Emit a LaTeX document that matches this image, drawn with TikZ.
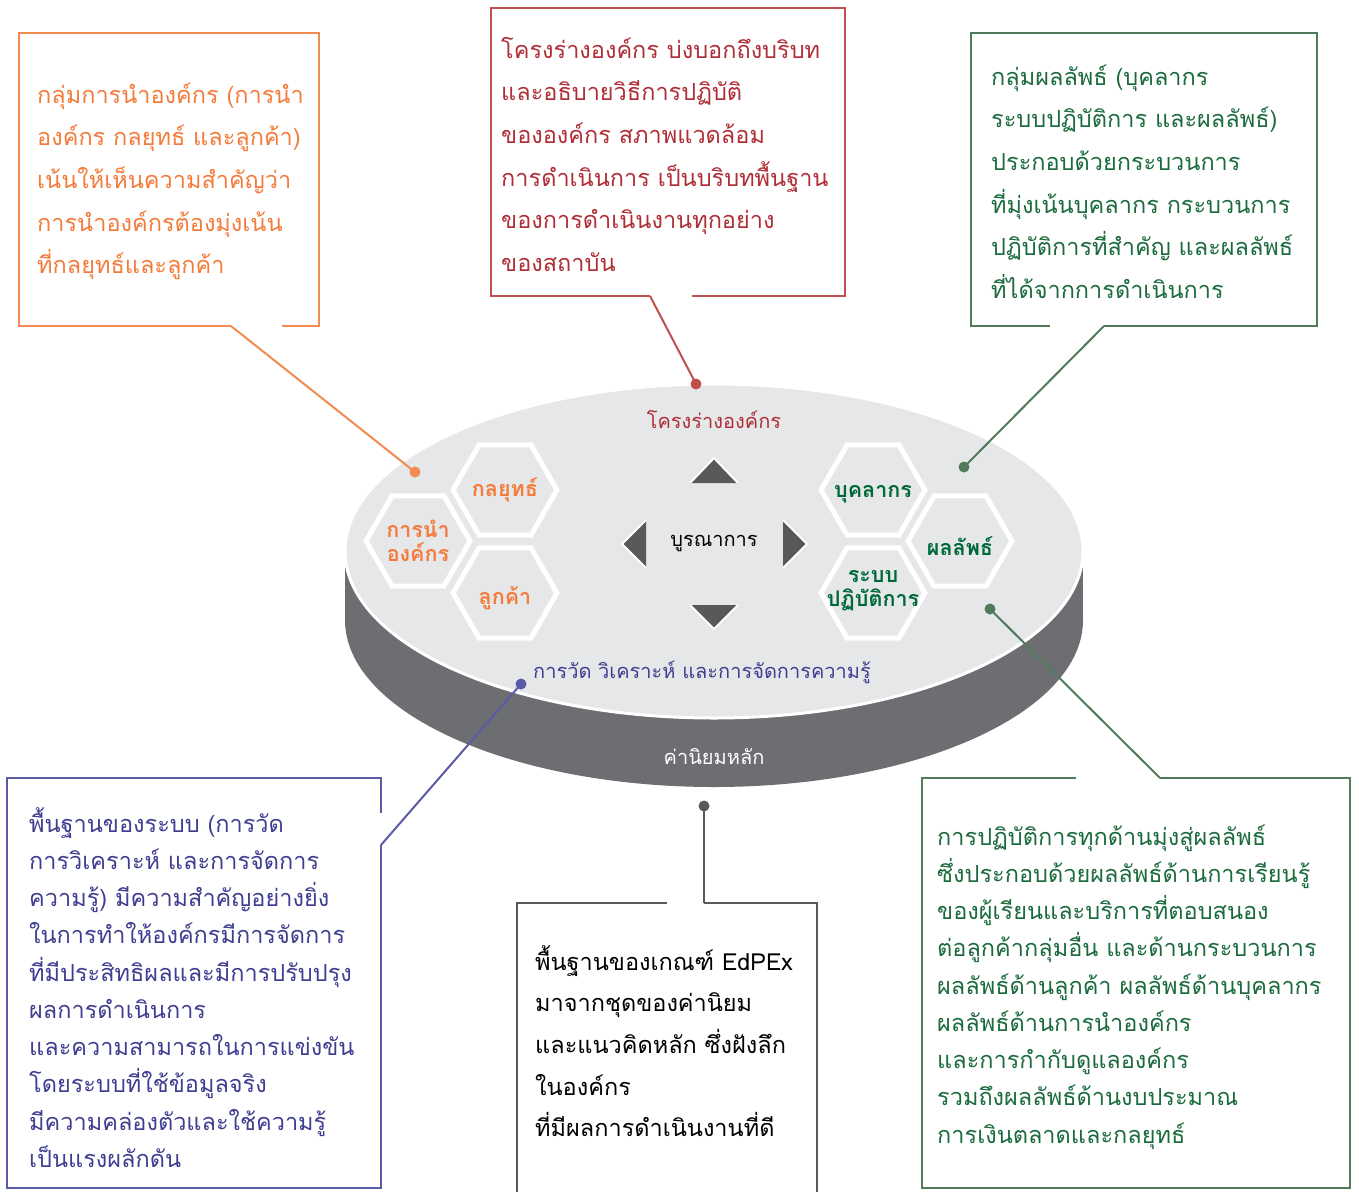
\documentclass[tikz,border=0pt]{standalone}
\usepackage{fontspec}
\setmainfont[Script=Thai]{Loma}
\usetikzlibrary{shapes.geometric}
\definecolor{leadline}{HTML}{F28A52}
\definecolor{leadtext}{HTML}{F47B3B}
\definecolor{profline}{HTML}{C0504D}
\definecolor{proftext}{HTML}{B02E36}
\definecolor{resline}{HTML}{4F7B5B}
\definecolor{restext}{HTML}{1B6B3D}
\definecolor{hexgreen}{HTML}{00693A}
\definecolor{baseline-purple}{HTML}{5B5AA6}
\definecolor{basetext}{HTML}{3F3E91}
\definecolor{coregray}{HTML}{58595B}
\definecolor{disktop}{HTML}{E6E7E8}
\definecolor{diskside}{HTML}{6D6E71}

\begin{document}
\begin{tikzpicture}[
  x=1pt, y=-1pt,
  frame/.style={line width=2.6pt, line join=miter},
  pointer/.style={line width=2pt},
  dot/.style={circle, fill=#1, inner sep=0pt, minimum size=11pt},
  boxtxt/.style={anchor=base west, align=left, inner sep=0pt},
  widepitch/.style={font=\fontsize{23.5}{42.7}\selectfont},
  narrowpitch/.style={font=\fontsize{23.5}{37.25}\selectfont},
  hex/.style={regular polygon, regular polygon sides=6, minimum size=104pt,
              draw=white, line width=5pt, inner sep=0pt},
  hexlbl/.style={font=\fontsize{21.5}{24}\selectfont\bfseries, align=center, inner sep=0pt},
  disklbl/.style={font=\fontsize{20}{24}\selectfont, inner sep=0pt},
]
\useasboundingbox (0,0) rectangle (1359,1191);

% ---- the disk: core values base, framework top ----
\fill[diskside] (714,620) ellipse[x radius=369pt, y radius=167pt];
\fill[diskside] (345,551) rectangle (1083,620);
\filldraw[fill=disktop, draw=white, line width=3pt] (714,551) ellipse[x radius=369pt, y radius=167pt];

% ---- hexagons ----
\node[hex] (hexLead)  at (418,541) {};
\node[hex] (hexStrat) at (505,490) {};
\node[hex] (hexCust)  at (505,593) {};
\node[hex] (hexWork)  at (873,490) {};
\node[hex] (hexRes)   at (960,541) {};
\node[hex] (hexOps)   at (873,593) {};
\node[hexlbl, text=leadtext] (lLead)  at (418,541) {การนำ\\องค์กร};
\node[hexlbl, text=leadtext] (lStrat) at (505,490) {กลยุทธ์};
\node[hexlbl, text=leadtext] (lCust)  at (505,598) {ลูกค้า};
\node[hexlbl, text=hexgreen] (lWork)  at (873,494) {บุคลากร};
\node[hexlbl, text=hexgreen] (lRes)   at (960,546) {ผลลัพธ์};
\node[hexlbl, text=hexgreen] (lOps)   at (873,591) {ระบบ\\ปฏิบัติการ};

% ---- integration arrows ----
\fill[coregray] (690,483) -- (714,458) -- (738,483) -- cycle;
\draw[white, line width=2pt] (690,483) -- (714,458) -- (738,483);
\fill[coregray] (690,605) -- (714,629) -- (738,605) -- cycle;
\draw[white, line width=2pt] (690,605) -- (714,629) -- (738,605);
\fill[coregray] (646,520) -- (622,544) -- (646,568) -- cycle;
\draw[white, line width=2pt] (646,520) -- (622,544) -- (646,568);
\fill[coregray] (783,520) -- (807,544) -- (783,568) -- cycle;
\draw[white, line width=2pt] (783,520) -- (807,544) -- (783,568);

% ---- disk labels ----
\node[disklbl, text=proftext] (lProfile) at (714,420) {โครงร่างองค์กร};
\node[disklbl] (lInteg) at (714,543) {บูรณาการ};
\node[disklbl, text=basetext] (lMeasure) at (702,672) {การวัด วิเคราะห์ และการจัดการความรู้};
\node[disklbl, text=white] (lValues) at (714,757) {ค่านิยมหลัก};

% ---- callout dots ----
\node[dot=leadline] (dLead)   at (415,472) {};
\node[dot=profline] (dProf)   at (696,384) {};
\node[dot=resline]  (dRes)    at (964,467) {};
\node[dot=baseline-purple] (dBase) at (521,684) {};
\node[dot=coregray] (dValues) at (704,806) {};
\node[dot=resline]  (dOut)    at (990,609) {};

% ---- callout boxes ----
\coordinate (tLead) at (231,326);
\draw[frame, leadline] (tLead) -- (19,326) -- (19,33) -- (319,33) -- (319,326) -- (282,326);
\draw[pointer, leadline] (tLead) -- (dLead.center);
\node[boxtxt, widepitch, text=leadtext, text width=280pt] (boxLead) at (37,103)
  {กลุ่มการนำองค์กร (การนำ\\
   องค์กร กลยุทธ์ และลูกค้า)\\
   เน้นให้เห็นความสำคัญว่า\\
   การนำองค์กรต้องมุ่งเน้น\\
   ที่กลยุทธ์และลูกค้า};

\coordinate (tProf) at (650,296);
\draw[frame, profline] (tProf) -- (491,296) -- (491,8) -- (845,8) -- (845,296) -- (692,296);
\draw[pointer, profline] (tProf) -- (dProf.center);
\node[boxtxt, widepitch, text=proftext, text width=340pt] (boxProfile) at (501,58)
  {โครงร่างองค์กร บ่งบอกถึงบริบท\\
   และอธิบายวิธีการปฏิบัติ\\
   ขององค์กร สภาพแวดล้อม\\
   การดำเนินการ เป็นบริบทพื้นฐาน\\
   ของการดำเนินงานทุกอย่าง\\
   ของสถาบัน};

\coordinate (tRes) at (1104,326);
\draw[frame, resline] (1050,326) -- (971,326) -- (971,33) -- (1317,33) -- (1317,326) -- (tRes);
\draw[pointer, resline] (tRes) -- (dRes.center);
\node[boxtxt, widepitch, text=restext, text width=320pt] (boxResults) at (991,85)
  {กลุ่มผลลัพธ์ (บุคลากร\\
   ระบบปฏิบัติการ และผลลัพธ์)\\
   ประกอบด้วยกระบวนการ\\
   ที่มุ่งเน้นบุคลากร กระบวนการ\\
   ปฏิบัติการที่สำคัญ และผลลัพธ์\\
   ที่ได้จากการดำเนินการ};

\coordinate (tBase) at (381,845);
\draw[frame, baseline-purple] (381,813) -- (381,778) -- (7,778) -- (7,1188) -- (381,1188) -- (tBase);
\draw[pointer, baseline-purple] (tBase) -- (dBase.center);
\node[boxtxt, narrowpitch, text=basetext, text width=350pt] (boxFoundation) at (29,832)
  {พื้นฐานของระบบ (การวัด\\
   การวิเคราะห์ และการจัดการ\\
   ความรู้) มีความสำคัญอย่างยิ่ง\\
   ในการทำให้องค์กรมีการจัดการ\\
   ที่มีประสิทธิผลและมีการปรับปรุง\\
   ผลการดำเนินการ\\
   และความสามารถในการแข่งขัน\\
   โดยระบบที่ใช้ข้อมูลจริง\\
   มีความคล่องตัวและใช้ความรู้\\
   เป็นแรงผลักดัน};

\coordinate (tValues) at (704,903);
\draw[frame, coregray] (667,903) -- (517,903) -- (517,1200);
\draw[frame, coregray] (tValues) -- (817,903) -- (817,1200);
\draw[pointer, coregray] (tValues) -- (dValues.center);
\node[boxtxt, font=\fontsize{23.5}{41.7}\selectfont, text width=270pt] (boxValues) at (535,970)
  {พื้นฐานของเกณฑ์ EdPEx\\
   มาจากชุดของค่านิยม\\
   และแนวคิดหลัก ซึ่งฝังลึก\\
   ในองค์กร\\
   ที่มีผลการดำเนินงานที่ดี};

\coordinate (tOut) at (1160,778);
\draw[frame, resline] (1076,778) -- (922,778) -- (922,1188) -- (1350,1188) -- (1350,778) -- (tOut);
\draw[pointer, resline] (tOut) -- (dOut.center);
\node[boxtxt, narrowpitch, text=restext, text width=400pt] (boxOutcome) at (937,845)
  {การปฏิบัติการทุกด้านมุ่งสู่ผลลัพธ์\\
   ซึ่งประกอบด้วยผลลัพธ์ด้านการเรียนรู้\\
   ของผู้เรียนและบริการที่ตอบสนอง\\
   ต่อลูกค้ากลุ่มอื่น และด้านกระบวนการ\\
   ผลลัพธ์ด้านลูกค้า ผลลัพธ์ด้านบุคลากร\\
   ผลลัพธ์ด้านการนำองค์กร\\
   และการกำกับดูแลองค์กร\\
   รวมถึงผลลัพธ์ด้านงบประมาณ\\
   การเงินตลาดและกลยุทธ์};
\end{tikzpicture}
\end{document}
